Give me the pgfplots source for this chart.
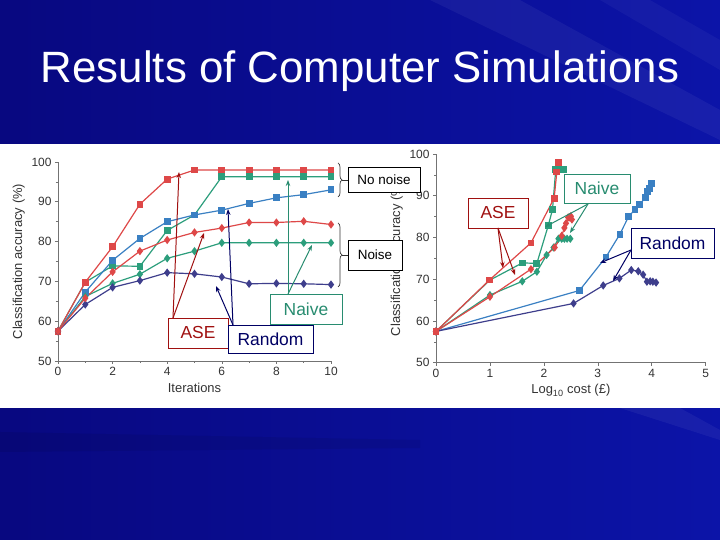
\documentclass[border=0pt]{standalone}
\usepackage{fontspec}
\setmainfont{Liberation Sans}
\usepackage{pgfplots}
\pgfplotsset{compat=1.18}
\usepackage{pgfplotstable}
\usetikzlibrary{arrows.meta,decorations.pathreplacing}

\definecolor{aseR}{RGB}{222,72,72}
\definecolor{naiveT}{RGB}{44,158,124}
\definecolor{randB}{RGB}{58,128,195}
\definecolor{randN}{RGB}{62,62,140}
\definecolor{aseDark}{RGB}{160,16,16}
\definecolor{randDark}{RGB}{0,0,100}
\definecolor{naiveDark}{RGB}{40,140,112}
\definecolor{bgA}{RGB}{8,8,128}
\definecolor{bgB}{RGB}{12,20,168}

% it = iteration, cost = log10 cost, acc = accuracy (%)
\pgfplotstableread{
it cost acc
0 0 57.5
1 0.99 69.8
2 1.76 78.7
3 2.19 89.4
4 2.24 95.7
5 2.26 98.0
6 2.27 98.0
7 2.27 98.0
8 2.28 98.0
9 2.28 98.0
10 2.28 98.0
}\aseclean
\pgfplotstableread{
it cost acc
0 0 57.5
1 1.00 65.8
2 1.76 72.4
3 2.20 77.6
4 2.33 80.4
5 2.38 82.3
6 2.41 83.4
7 2.45 84.8
8 2.48 84.8
9 2.50 85.1
10 2.52 84.3
}\asenoise
\pgfplotstableread{
it cost acc
0 0 57.5
1 1.00 69.8
2 1.60 73.9
3 1.87 73.8
4 2.08 82.8
5 2.16 86.7
6 2.22 96.3
7 2.26 96.3
8 2.30 96.3
9 2.33 96.3
10 2.36 96.3
}\naiveclean
\pgfplotstableread{
it cost acc
0 0 57.5
1 1.00 66.2
2 1.60 69.5
3 1.87 71.8
4 2.05 75.8
5 2.18 77.6
6 2.27 79.7
7 2.33 79.7
8 2.38 79.7
9 2.43 79.7
10 2.49 79.7
}\naivenoise
\pgfplotstableread{
it cost acc
0 0 57.5
1 2.66 67.3
2 3.15 75.3
3 3.41 80.8
4 3.57 85.0
5 3.69 86.7
6 3.78 87.9
7 3.88 89.6
8 3.92 91.0
9 3.96 91.8
10 4.00 93.0
}\randclean
\pgfplotstableread{
it cost acc
0 0 57.5
1 2.55 64.2
2 3.10 68.5
3 3.40 70.2
4 3.62 72.2
5 3.75 71.9
6 3.84 71.1
7 3.91 69.4
8 3.97 69.5
9 4.02 69.4
10 4.08 69.2
}\randnoise

\pgfplotsset{
  slide/.style={
    scale only axis, clip=false,
    axis lines*=left,
    axis line style={black!55, line width=0.8pt},
    tick style={black!55, line width=0.6pt},
    tick align=outside, major tick length=3bp, minor tick length=2bp,
    ymin=50, ymax=100, ytick={50,60,...,100}, minor y tick num=1,
    ticklabel style={font=\fontsize{12}{13}\selectfont, text=black!80},
    label style={font=\fontsize{13}{14}\selectfont, text=black!80},
    /pgf/number format/assume math mode=true,
    ylabel={Classification accuracy (\%)},
  },
  sq/.style={line width=1.2pt, mark=square*, mark size=2.8bp},
  dm/.style={line width=1.2pt, mark=diamond*, mark size=3.2bp},
}

\begin{document}
\begin{tikzpicture}
\useasboundingbox (0,0) rectangle (720bp,540bp);
\shade[left color=bgA, right color=bgB] (0,0) rectangle (720bp,540bp);

\begin{scope}[shift={(0,540bp)}, x=1bp, y=-1bp]
  \fill[white, opacity=0.05] (430,0) -- (520,0) -- (720,110) -- (720,140) -- cycle;
  \fill[white, opacity=0.04] (600,0) -- (650,0) -- (720,40) -- (720,70) -- cycle;
  \fill[white, opacity=0.05] (620,408) -- (680,408) -- (720,430) -- (720,440) -- cycle;
  \fill[black, opacity=0.07] (0,432) -- (420,440) -- (420,448) -- (0,452) -- cycle;
  \fill[white] (0,144) rectangle (720,408);
  \node[text=white, anchor=base, font=\fontsize{44}{48}\selectfont] at (360,83)
    {Results of Computer Simulations};
\end{scope}

% left: accuracy vs iterations
\begin{axis}[slide, at={(58bp,179bp)}, anchor=south west,
  width=273bp, height=199bp,
  xmin=0, xmax=10, xtick={0,2,...,10}, minor x tick num=1,
  xlabel={Iterations}]
\addplot[sq, naiveT] table[x=it, y=acc] {\naiveclean};
\addplot[sq, randB] table[x=it, y=acc] {\randclean};
\addplot[sq, aseR] table[x=it, y=acc] {\aseclean};
\addplot[dm, naiveT] table[x=it, y=acc] {\naivenoise};
\addplot[dm, randN] table[x=it, y=acc] {\randnoise};
\addplot[dm, aseR] table[x=it, y=acc] {\asenoise};
\end{axis}

% right: accuracy vs cost
\begin{axis}[slide, at={(436bp,177.3bp)}, anchor=south west,
  width=269.7bp, height=208.7bp,
  xmin=0, xmax=5, xtick={0,...,5},
  xlabel={Log\textsubscript{10} cost (£)}]
\addplot[sq, randB] table[x=cost, y=acc] {\randclean};
\addplot[dm, randN] table[x=cost, y=acc] {\randnoise};
\addplot[dm, naiveT] table[x=cost, y=acc] {\naivenoise};
\addplot[dm, aseR] table[x=cost, y=acc] {\asenoise};
\addplot[sq, naiveT] table[x=cost, y=acc] {\naiveclean};
\addplot[sq, aseR] table[x=cost, y=acc] {\aseclean};
\end{axis}

\begin{scope}[shift={(0,540bp)}, x=1bp, y=-1bp,
  box/.style={draw=#1, text=#1, fill=white, line width=0.8pt, inner sep=0pt},
  big/.style={font=\fontsize{17.5}{18}\selectfont},
  small/.style={font=\fontsize{13.5}{14}\selectfont},
  arr/.style={line width=1pt, -{Stealth[length=6bp,width=4.5bp]}}]
  % braces and labels
  \draw[black!80, line width=0.7pt, decorate, decoration={brace, amplitude=4bp}] (338,163) -- (338,197);
  \draw[black!80, line width=0.7pt, decorate, decoration={brace, amplitude=4bp}] (338,223) -- (338,287);
  \draw[black!80, line width=0.7pt] (342,180) -- (348,180);
  \draw[black!80, line width=0.7pt] (342,255) -- (348,255);
  \node[box=black, small, minimum width=72bp, minimum height=25bp] at (384,179.5) {No noise};
  \node[box=black, small, minimum width=54bp, minimum height=30bp] at (375,255) {Noise};

  % left annotations
  \node[box=naiveDark, big, minimum width=72bp, minimum height=30bp] at (306,309) {Naive};
  \draw[arr, naiveDark] (288,294) -- (288,180);
  \draw[arr, naiveDark] (288,294) -- (312,245);
  \draw[arr, aseDark] (173,318) -- (179,172);
  \draw[arr, aseDark] (173,318) -- (204,233);
  \draw[arr, randDark] (233,325) -- (228,209);
  \draw[arr, randDark] (233,325) -- (216,286);
  \node[box=aseDark, big, minimum width=60bp, minimum height=30bp] at (198,333) {ASE};
  \node[box=randDark, big, minimum width=85bp, minimum height=28bp] at (270.5,339) {Random};

  % right annotations
  \node[box=aseDark, big, minimum width=60bp, minimum height=30bp] at (498,213) {ASE};
  \draw[arr, aseDark] (498,228) -- (503,268);
  \draw[arr, aseDark] (498,228) -- (515,275);
  \node[box=naiveDark, big, minimum width=66bp, minimum height=29bp] at (597,188.5) {Naive};
  \draw[arr, naiveDark] (588,204) -- (545,227);
  \draw[arr, naiveDark] (588,204) -- (570,233);
  \node[box=randDark, big, minimum width=83bp, minimum height=30bp] at (672.5,243) {Random};
  \draw[arr, randDark] (631,250) -- (600,263);
  \draw[arr, randDark] (631,250) -- (613,281);
\end{scope}
\end{tikzpicture}
\end{document}
